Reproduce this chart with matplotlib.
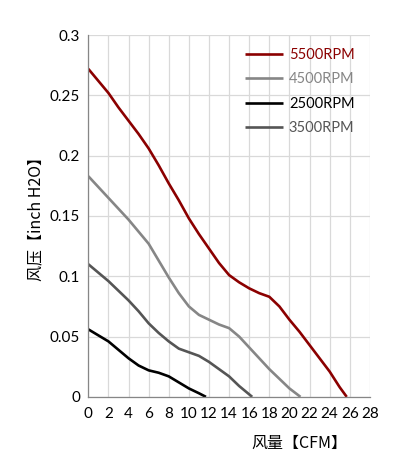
import matplotlib
matplotlib.use("Agg")
import matplotlib.pyplot as plt

plt.rcParams["font.family"] = ["Lato", "Noto Sans CJK SC", "DejaVu Sans"]

# 风量 (CFM) / 风压 (inch H2O)
cfm_5500 = [0, 1, 2, 3, 4, 5, 6, 7, 8, 9, 10, 11, 12, 13, 14, 15, 16, 17, 18, 19, 20, 21, 22, 23, 24, 25, 25.7]
p_5500 = [0.272, 0.262, 0.252, 0.240, 0.229, 0.218, 0.206, 0.192, 0.177, 0.163, 0.148, 0.135, 0.123, 0.111, 0.101, 0.095, 0.090, 0.086, 0.083, 0.075, 0.064, 0.054, 0.043, 0.032, 0.021, 0.008, 0.0]

cfm_4500 = [0, 2, 4, 5, 6, 7, 8, 9, 10, 11, 12, 13, 14, 15, 16, 17, 18, 19, 20, 21.1]
p_4500 = [0.183, 0.165, 0.147, 0.137, 0.127, 0.113, 0.099, 0.086, 0.075, 0.068, 0.064, 0.060, 0.057, 0.050, 0.041, 0.032, 0.023, 0.015, 0.007, 0.0]

cfm_2500 = [0, 1, 2, 3, 4, 5, 6, 7, 8, 9, 10, 11, 11.7]
p_2500 = [0.056, 0.051, 0.046, 0.039, 0.032, 0.026, 0.022, 0.020, 0.017, 0.012, 0.007, 0.003, 0.0]

cfm_3500 = [0, 2, 4, 5, 6, 7, 8, 9, 10, 11, 12, 13, 14, 15, 16.3]
p_3500 = [0.110, 0.096, 0.080, 0.071, 0.061, 0.053, 0.046, 0.040, 0.037, 0.034, 0.029, 0.023, 0.017, 0.009, 0.0]

series = [
    ("5500RPM", cfm_5500, p_5500, "#8b0000"),
    ("4500RPM", cfm_4500, p_4500, "#868686"),
    ("2500RPM", cfm_2500, p_2500, "#000000"),
    ("3500RPM", cfm_3500, p_3500, "#555555"),
]

x_ticks = list(range(0, 29, 2))
y_ticks = [0, 0.05, 0.1, 0.15, 0.2, 0.25, 0.3]
y_labels = ["0", "0.05", "0.1", "0.15", "0.2", "0.25", "0.3"]

fig = plt.figure(figsize=(3.96, 4.68), dpi=100)
ax = fig.add_axes([0.223, 0.152, 0.711, 0.773])

for name, x, y, c in series:
    ax.plot(x, y, color=c, linewidth=1.9, label=name,
            solid_capstyle="butt", solid_joinstyle="round")

ax.set_xlim(0, 28)
ax.set_ylim(0, 0.3)
ax.set_xticks(x_ticks)
ax.set_yticks(y_ticks)
ax.set_yticklabels(y_labels)
ax.grid(True, color="#d9d9d9", linewidth=0.9)
ax.set_axisbelow(True)
ax.tick_params(length=0, labelsize=11, pad=6)
ax.tick_params(axis="x", pad=7)
for s in ["top", "right"]:
    ax.spines[s].set_visible(False)
for s in ["left", "bottom"]:
    ax.spines[s].set_color("#868686")
    ax.spines[s].set_linewidth(0.9)

leg = ax.legend(loc="upper left", bbox_to_anchor=(0.619, 0.897),
                bbox_transform=fig.transFigure, frameon=False,
                fontsize=10.5, handlelength=2.6, handletextpad=0.4,
                labelspacing=0.7, borderpad=0, borderaxespad=0)
for txt, (_, _, _, c) in zip(leg.get_texts(), series):
    txt.set_color(c)

fig.text(0.09, 0.54, "风压【inch H2O】", rotation=90, fontsize=11.5,
         ha="center", va="center", family=["Noto Sans CJK SC", "DejaVu Sans"])
fig.text(0.755, 0.052, "风量【CFM】", fontsize=11.5, ha="center", va="center",
         family=["Noto Sans CJK SC", "DejaVu Sans"])

fig.savefig("out.png", dpi=100)
